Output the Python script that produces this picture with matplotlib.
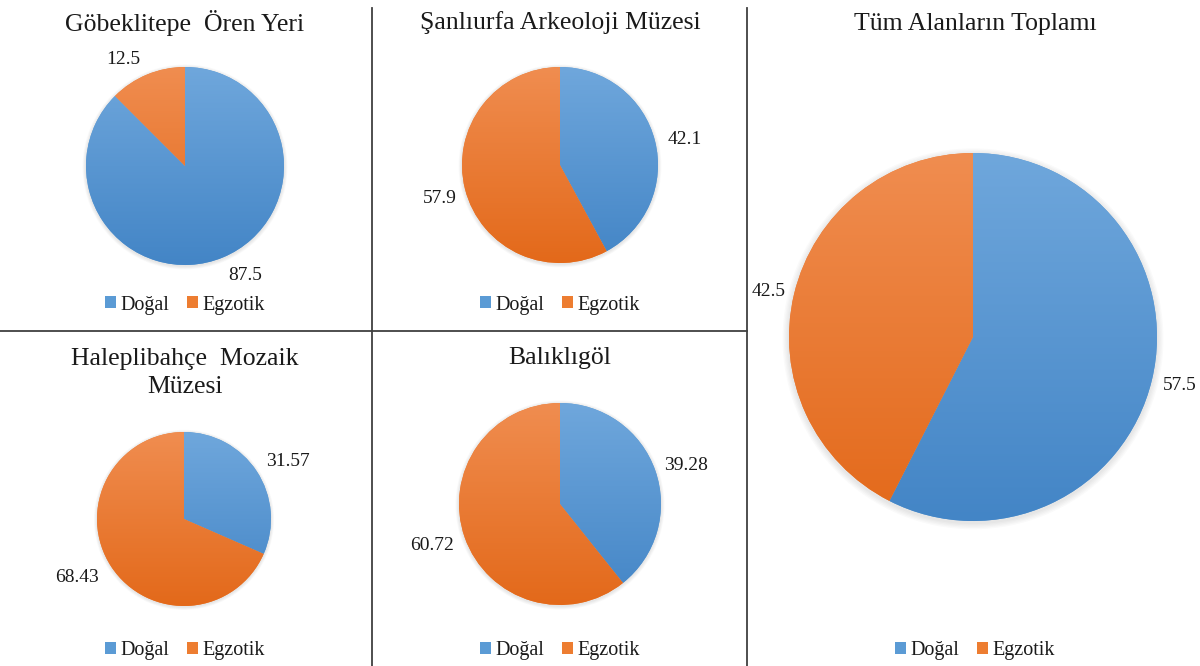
import matplotlib
matplotlib.use("Agg")
import matplotlib.pyplot as plt
import numpy as np
from matplotlib.colors import LinearSegmentedColormap
from matplotlib.patches import Patch, Circle
from matplotlib.lines import Line2D

# ---------------- data ----------------
categories = ["Doğal", "Egzotik"]
titles = ["Göbeklitepe  Ören Yeri", "Şanlıurfa Arkeoloji Müzesi",
          "Haleplibahçe  Mozaik\nMüzesi", "Balıklıgöl", "Tüm Alanların Toplamı"]
gobeklitepe = [87.5, 12.5]
sanliurfa = [42.1, 57.9]
haleplibahce = [31.57, 68.43]
balikligol = [39.28, 60.72]
toplam = [57.5, 42.5]
series = [gobeklitepe, sanliurfa, haleplibahce, balikligol, toplam]

# ---------------- layout (pixels) ----------------
W, H = 1200, 666
pie_center = [(185, 166), (560, 165), (184, 519), (560, 504), (973, 337)]
pie_radius = [99, 98, 87, 101, 184]
title_pos = [(185, 23), (560, 23), (185, 373), (560, 358), (975, 24)]
legend_pos = [(185, 305), (560, 305), (185, 651), (560, 651), (975, 651)]
label_pos = [[(245, 276), (123, 60)],
             [(685, 140), (440, 198)],
             [(288, 461), (77, 578)],
             [(686, 466), (432, 545)],
             [(1180, 385), (769, 292)]]

base_colors = ["#5B9BD5", "#ED7D31"]
grad_colors = [("#4385C6", "#6FA7DC"), ("#E3691A", "#F08D50")]

plt.rcParams["font.family"] = ["Liberation Serif", "DejaVu Serif"]
fig = plt.figure(figsize=(W / 100, H / 100), dpi=100)
fig.patch.set_facecolor("white")


def fx(x):
    return x / W


def fy(y):
    return 1 - y / H


for i, vals in enumerate(series):
    cx, cy = pie_center[i]
    r = pie_radius[i]
    R = r * 1.08
    ax = fig.add_axes([fx(cx - R), fy(cy + R), 2 * R / W, 2 * R / H])
    ax.set_xlim(-1.08, 1.08)
    ax.set_ylim(-1.08, 1.08)
    ax.set_aspect("equal")
    ax.axis("off")
    # soft shadow
    for k in range(5):
        ax.add_patch(Circle((0.0, -0.01), 1.0 + 0.007 * (k + 1), color="#808080",
                            alpha=0.04, lw=0, zorder=0))
    wedges, _ = ax.pie(vals, colors=base_colors, startangle=90, counterclock=False,
                       radius=1.0, wedgeprops=dict(linewidth=0, zorder=1))
    grad = np.linspace(0, 1, 256).reshape(-1, 1)
    for w, (c0, c1) in zip(wedges, grad_colors):
        cmap = LinearSegmentedColormap.from_list("g", [c0, c1])
        im = ax.imshow(grad, extent=(-1, 1, -1, 1), origin="lower", cmap=cmap,
                       aspect="auto", zorder=2, interpolation="bilinear")
        im.set_clip_path(w)
    ax.set_xlim(-1.08, 1.08)
    ax.set_ylim(-1.08, 1.08)

    # value labels
    for v, (lx, ly) in zip(vals, label_pos[i]):
        fig.text(fx(lx), fy(ly), f"{v:g}", ha="center", va="center",
                 fontsize=14, color="#1a1a1a")

    # title
    tx, ty = title_pos[i]
    fig.text(fx(tx), fy(ty), titles[i], ha="center", va="center", fontsize=18.5,
             color="#1a1a1a", linespacing=1.3)

    # legend
    handles = [Patch(facecolor=c, edgecolor="none") for c in base_colors]
    lx, ly = legend_pos[i]
    fig.legend(handles, categories, loc="center", bbox_to_anchor=(fx(lx), fy(ly)),
               ncol=2, frameon=False, fontsize=14.5, handlelength=0.55,
               handleheight=0.55, handletextpad=0.2, columnspacing=0.9,
               labelcolor="#1a1a1a")

# divider lines
line_kw = dict(transform=fig.transFigure, color="#404040", lw=1.3)
fig.add_artist(Line2D([fx(372), fx(372)], [fy(8), fy(666)], **line_kw))
fig.add_artist(Line2D([fx(747), fx(747)], [fy(8), fy(666)], **line_kw))
fig.add_artist(Line2D([fx(0), fx(747)], [fy(331), fy(331)], **line_kw))

fig.savefig("out.png", dpi=100, facecolor="white")
